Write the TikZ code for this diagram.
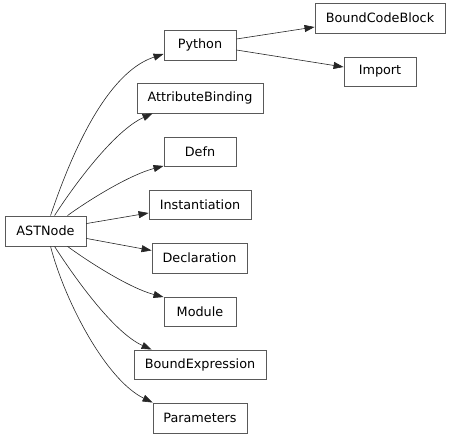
\documentclass[tikz,border=0pt]{standalone}
\usepackage{fontspec}
\setmainfont{DejaVu Sans}
\usetikzlibrary{arrows.meta}
\begin{document}
\begin{tikzpicture}[x=1pt,y=-1pt,
  cls/.style={draw=black!65,line width=0.9pt,minimum height=30pt,inner sep=0pt,
    font=\fontsize{12.8}{15}\selectfont,text=black},
  edge/.style={draw=black!85,line width=0.6pt,-{Triangle[length=10pt,width=7pt]}}]
\useasboundingbox (0,0) rectangle (451,441);
\node[cls,minimum width=130pt] (bcb) at (380,18) {BoundCodeBlock};
\node[cls,minimum width=72pt] (py) at (200,45) {Python};
\node[cls,minimum width=72pt,minimum height=29pt] (imp) at (380,71.5) {Import};
\node[cls,minimum width=126pt] (ab) at (200,98) {AttributeBinding};
\node[cls,minimum width=72pt,minimum height=29pt] (defn) at (200,151.5) {Defn};
\node[cls,minimum width=102pt,minimum height=29pt] (inst) at (200,204.5) {Instantiation};
\node[cls,minimum width=81pt] (ast) at (45.5,231) {ASTNode};
\node[cls,minimum width=95pt] (decl) at (199.5,258) {Declaration};
\node[cls,minimum width=72pt,minimum height=29pt] (mod) at (200,311.5) {Module};
\node[cls,minimum width=132pt,minimum height=29pt] (be) at (200,364.5) {BoundExpression};
\node[cls,minimum width=94pt] (par) at (200,418) {Parameters};

\draw[edge] ([yshift=6pt]py.east) -- ([yshift=-9pt]bcb.west);
\draw[edge] ([yshift=-5pt]py.east) -- ([yshift=4.5pt]imp.west);

\draw[edge] ([xshift=46pt]ast.north west) .. controls +(29,-86) and +(-49,16) .. ([yshift=-9pt]py.west);
\draw[edge] ([xshift=50pt]ast.north west) .. controls +(20,-31) and +(-38,17) .. ([xshift=16pt]ab.south west);
\draw[edge] ([xshift=63pt]ast.north west) .. controls +(22,-16) and +(-34,9) .. ([yshift=0.5pt]defn.south west);
\draw[edge] ([yshift=-8pt]ast.north east) -- ([yshift=-8.5pt]inst.west);
\draw[edge] ([yshift=8pt]ast.south east) -- ([yshift=7.5pt]decl.west);
\draw[edge] ([xshift=63pt]ast.south west) .. controls +(22,16) and +(-34,-9) .. ([yshift=-0.5pt]mod.north west);
\draw[edge] ([xshift=50pt]ast.south west) .. controls +(20,31) and +(-38,-17) .. ([xshift=18pt]be.north west);
\draw[edge] ([xshift=46pt]ast.south west) .. controls +(14,54) and +(-47,-23) .. (par.north west);
\end{tikzpicture}
\end{document}
